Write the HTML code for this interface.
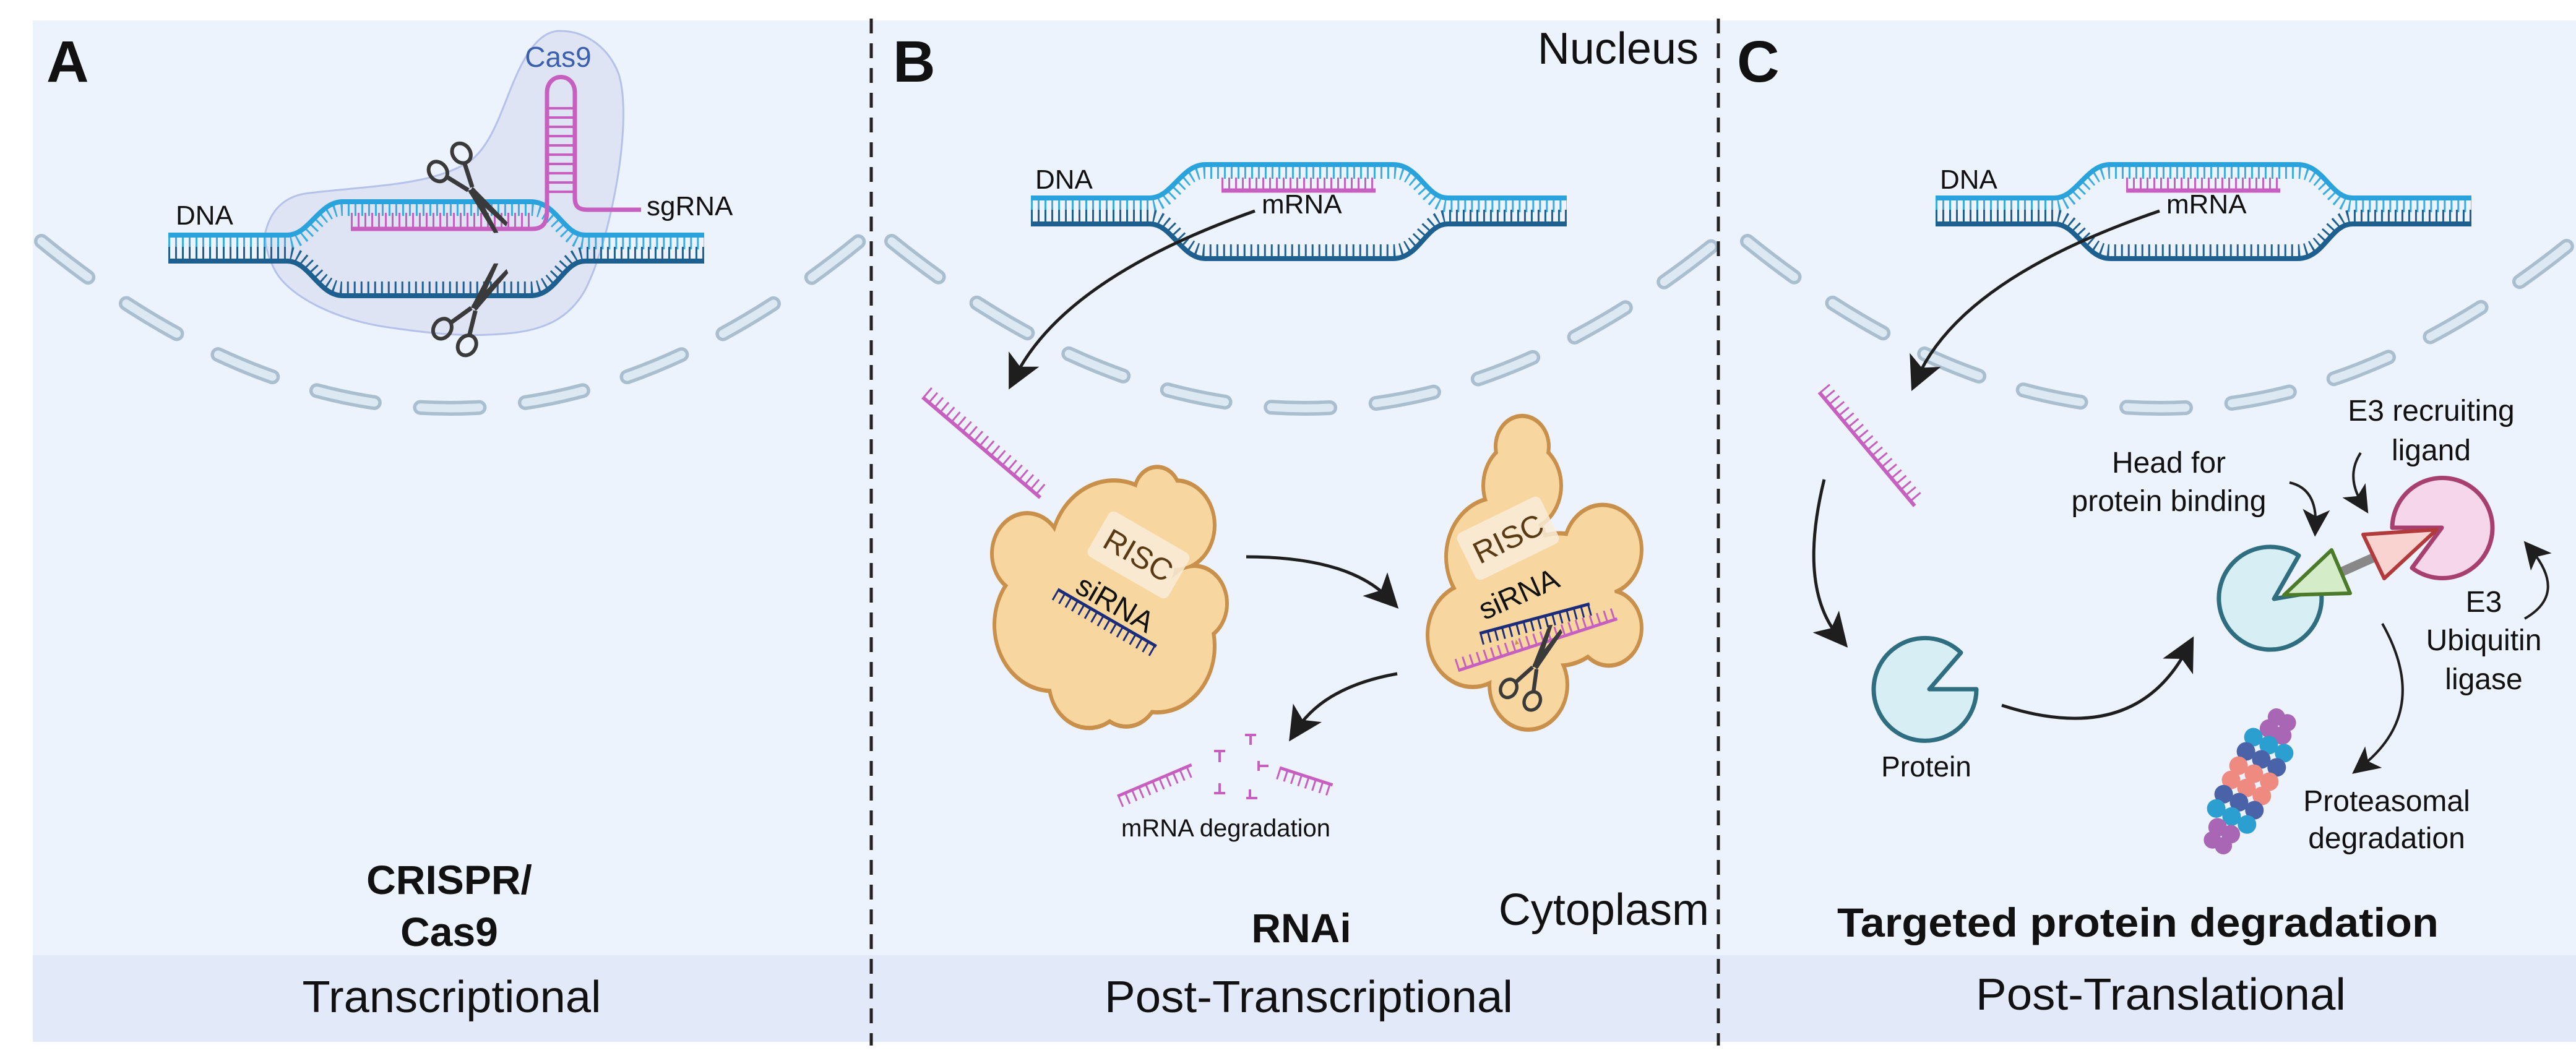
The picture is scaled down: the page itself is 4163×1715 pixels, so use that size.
<!DOCTYPE html>
<html><head><meta charset="utf-8"><style>
html,body{margin:0;padding:0;background:#fff}
svg{display:block}
text{font-family:"Liberation Sans",sans-serif;fill:#111}
</style></head><body>
<svg xmlns="http://www.w3.org/2000/svg" xmlns:xlink="http://www.w3.org/1999/xlink" width="4163" height="1715" viewBox="0 0 4163 1715">
<defs>
<marker id="ah" viewBox="0 0 10 10" refX="6" refY="5" markerWidth="11" markerHeight="11" markerUnits="strokeWidth" orient="auto">
<path d="M0,0 L10,5 L0,10 L2.5,5 Z" fill="#1e1e1e"/></marker>
<clipPath id="pc"><rect x="53" y="33" width="4110" height="1650"/></clipPath>
<g id="dna">
<path d="M272 393 H464 C500 393 515 339 554 339 H857 C900 339 910 393 946 393 H1138" fill="none" stroke="#38ade3" stroke-width="20" stroke-dasharray="3 8"/>
<path d="M272 409 H464 C500 409 515 465 554 465 H857 C900 465 910 409 946 409 H1138" fill="none" stroke="#1f5f91" stroke-width="20" stroke-dasharray="3 8"/>
<path d="M272 380 H464 C500 380 515 326 554 326 H857 C900 326 910 380 946 380 H1138" fill="none" stroke="#2aa3dc" stroke-width="8"/>
<path d="M272 422 H464 C500 422 515 478 554 478 H857 C900 478 910 422 946 422 H1138" fill="none" stroke="#1d5f8f" stroke-width="8"/>
</g>
<g id="sc">
<path d="M0 -5 L80 -14 L84 -8 L4 6 Z" fill="#3a3a3a"/>
<path d="M0 5 L80 14 L84 8 L4 -6 Z" fill="#3a3a3a"/>
<path d="M0 -4 L-38 -18 M0 4 L-38 18" stroke="#3a3a3a" stroke-width="7"/>
<ellipse cx="-54" cy="-24" rx="17" ry="14" fill="none" stroke="#3a3a3a" stroke-width="6"/>
<ellipse cx="-54" cy="24" rx="17" ry="14" fill="none" stroke="#3a3a3a" stroke-width="6"/>
</g>
</defs>

<rect x="53" y="33" width="4110" height="1511" fill="#edf3fc"/>
<rect x="53" y="1544" width="4110" height="140" fill="#e2e9f8"/>

<g clip-path="url(#pc)">
<g fill="none" stroke-linecap="round" stroke-dasharray="95 75">
<path d="M67 390 Q726 930 1388 390" stroke="#a9bfcf" stroke-width="24"/>
<path d="M67 390 Q726 930 1388 390" stroke="#dce8f2" stroke-width="13"/>
<path d="M1441 390 Q2109 930 2776 390" stroke="#a9bfcf" stroke-width="24"/>
<path d="M1441 390 Q2109 930 2776 390" stroke="#dce8f2" stroke-width="13"/>
<path d="M2824 390 Q3491 930 4158 390" stroke="#a9bfcf" stroke-width="24"/>
<path d="M2824 390 Q3491 930 4158 390" stroke="#dce8f2" stroke-width="13"/>
</g>
</g>

<g stroke="#222" stroke-width="5" stroke-dasharray="24 16">
<line x1="1408" y1="30" x2="1408" y2="1690"/>
<line x1="2777" y1="30" x2="2777" y2="1690"/>
</g>

<!-- Panel A -->
<path d="M429 375 C440 330 470 315 500 312 C600 300 700 300 760 260 C800 230 815 160 840 110 C860 70 880 50 905 50 C950 50 985 80 1000 120 C1015 170 1005 260 990 330 C975 400 960 440 946 468 C920 515 880 532 830 538 C760 546 700 540 620 528 C540 515 470 480 446 440 C432 415 428 395 429 375 Z" fill="#dfe4f4" stroke="#b4c2ea" stroke-width="3"/>
<use xlink:href="#dna"/>
<path d="M567 356 H860" stroke="#c65fbf" stroke-width="24" stroke-dasharray="3 8" fill="none"/>
<path d="M567 370 H860 C878 370 884 360 884 340 V150 C884 116 929 116 929 150 V320 C929 334 935 339 950 339 H1036" fill="none" stroke="#c65fbf" stroke-width="7"/>
<path d="M884 175 H929 M884 190 H929 M884 205 H929 M884 220 H929 M884 235 H929 M884 250 H929 M884 265 H929 M884 280 H929 M884 295 H929 M884 310 H929" stroke="#c65fbf" stroke-width="4"/>
<use xlink:href="#sc" transform="translate(760 305) rotate(52)"/>
<use xlink:href="#sc" transform="translate(765 500) rotate(-56)"/>
<text x="284" y="363" font-size="44">DNA</text>
<text x="1045" y="348" font-size="44">sgRNA</text>
<text x="902" y="108" font-size="46" text-anchor="middle" style="fill:#3a5fad">Cas9</text>
<text x="75" y="132" font-size="95" font-weight="bold">A</text>
<text x="726" y="1445" font-size="66" font-weight="bold" text-anchor="middle">CRISPR/</text>
<text x="726" y="1529" font-size="66" font-weight="bold" text-anchor="middle">Cas9</text>
<text x="730" y="1636" font-size="72" text-anchor="middle" textLength="483" lengthAdjust="spacingAndGlyphs">Transcriptional</text>

<!-- Panel B -->
<use xlink:href="#dna" transform="translate(1394 -60)"/>
<path d="M1974 297 H2223" stroke="#c65fbf" stroke-width="20" stroke-dasharray="3 8"/>
<path d="M1974 308 H2223" stroke="#c65fbf" stroke-width="7"/>
<text x="1673" y="305" font-size="44">DNA</text>
<text x="2039" y="345" font-size="44">mRNA</text>
<text x="1443" y="132" font-size="95" font-weight="bold">B</text>
<text x="2745" y="103" font-size="72" text-anchor="end">Nucleus</text>
<text x="2762" y="1495" font-size="72" text-anchor="end">Cytoplasm</text>
<text x="2103" y="1523" font-size="66" font-weight="bold" text-anchor="middle">RNAi</text>
<text x="2115" y="1636" font-size="72" text-anchor="middle" textLength="660" lengthAdjust="spacingAndGlyphs">Post-Transcriptional</text>

<path d="M2028 341 Q1720 450 1640 610" fill="none" stroke="#1e1e1e" stroke-width="5" marker-end="url(#ah)"/>
<g transform="translate(1491 642) rotate(40.5)">
<line x1="0" y1="0" x2="250" y2="0" stroke="#c65fbf" stroke-width="6"/>
<line x1="0" y1="-11" x2="250" y2="-11" stroke="#c65fbf" stroke-width="20" stroke-dasharray="3 9"/>
</g>
<!-- RISC blob 1 -->
<g transform="translate(0 -140) scale(1 1.15)">
<g fill="#c8904a">
<circle cx="1700" cy="1000" r="96"/><circle cx="1800" cy="900" r="106"/><circle cx="1870" cy="1030" r="96"/><circle cx="1760" cy="1080" r="68"/><circle cx="1900" cy="860" r="66"/><circle cx="1870" cy="815" r="40"/><circle cx="1930" cy="970" r="56"/><circle cx="1660" cy="900" r="60"/><circle cx="1820" cy="1090" r="56"/>
</g>
<g fill="#f7d6a0">
<circle cx="1700" cy="1000" r="90"/><circle cx="1800" cy="900" r="100"/><circle cx="1870" cy="1030" r="90"/><circle cx="1760" cy="1080" r="62"/><circle cx="1900" cy="860" r="60"/><circle cx="1870" cy="815" r="34"/><circle cx="1930" cy="970" r="50"/><circle cx="1660" cy="900" r="54"/><circle cx="1820" cy="1090" r="50"/>
</g>
</g>
<g transform="translate(1840 897) rotate(30)">
<rect x="-75" y="-42" width="150" height="84" rx="10" fill="#f8ecd8" opacity="0.85"/>
<text x="0" y="18" font-size="50" text-anchor="middle" style="fill:#5a3a12">RISC</text>
</g>
<g transform="translate(1794 990) rotate(30)">
<text x="0" y="0" font-size="48" text-anchor="middle">siRNA</text>
<line x1="-92" y1="10" x2="92" y2="10" stroke="#1b2d7a" stroke-width="5"/>
<line x1="-92" y1="20" x2="92" y2="20" stroke="#1b2d7a" stroke-width="18" stroke-dasharray="3 9"/>
</g>
<!-- RISC blob 2 -->
<g transform="translate(0 -135) scale(1 1.15)">
<g fill="#c8904a">
<circle cx="2460" cy="800" r="66"/><circle cx="2420" cy="900" r="86"/><circle cx="2520" cy="960" r="96"/><circle cx="2380" cy="1010" r="76"/><circle cx="2470" cy="1080" r="66"/><circle cx="2590" cy="890" r="66"/><circle cx="2600" cy="1000" r="56"/><circle cx="2460" cy="745" r="46"/>
</g>
<g fill="#f7d6a0">
<circle cx="2460" cy="800" r="60"/><circle cx="2420" cy="900" r="80"/><circle cx="2520" cy="960" r="90"/><circle cx="2380" cy="1010" r="70"/><circle cx="2470" cy="1080" r="60"/><circle cx="2590" cy="890" r="60"/><circle cx="2600" cy="1000" r="50"/><circle cx="2460" cy="745" r="40"/>
</g>
</g>
<g transform="translate(2437 870) rotate(-26)">
<rect x="-75" y="-42" width="150" height="84" rx="10" fill="#f8ecd8" opacity="0.85"/>
<text x="0" y="18" font-size="50" text-anchor="middle" style="fill:#5a3a12">RISC</text>
</g>
<text x="0" y="0" font-size="48" text-anchor="middle" transform="translate(2461 975) rotate(-24)">siRNA</text>
<g transform="translate(2480 1000) rotate(-15)">
<line x1="-92" y1="0" x2="92" y2="0" stroke="#1b2d7a" stroke-width="5"/>
<line x1="-92" y1="10" x2="92" y2="10" stroke="#1b2d7a" stroke-width="18" stroke-dasharray="3 9"/>
</g>
<g transform="translate(2485 1042) rotate(-18)">
<line x1="-135" y1="0" x2="135" y2="0" stroke="#c65fbf" stroke-width="5"/>
<line x1="-135" y1="-10" x2="135" y2="-10" stroke="#c65fbf" stroke-width="18" stroke-dasharray="3 9"/>
</g>
<use xlink:href="#sc" transform="translate(2480 1080) rotate(-62) scale(0.9)"/>
<path d="M2014 900 Q2180 900 2245 968" fill="none" stroke="#1e1e1e" stroke-width="5" marker-end="url(#ah)"/>
<path d="M2258 1089 Q2140 1110 2095 1180" fill="none" stroke="#1e1e1e" stroke-width="5" marker-end="url(#ah)"/>
<g stroke="#c65fbf" fill="none">
<g transform="translate(1806 1287) rotate(-23)"><line x1="0" y1="0" x2="130" y2="0" stroke-width="5"/><line x1="0" y1="10" x2="130" y2="10" stroke-width="18" stroke-dasharray="3 9"/></g>
<g transform="translate(2068 1241) rotate(18)"><line x1="0" y1="0" x2="90" y2="0" stroke-width="5"/><line x1="0" y1="10" x2="90" y2="10" stroke-width="18" stroke-dasharray="3 9"/></g>
<path d="M1962 1214 H1980 M1971 1214 V1232" stroke-width="4"/>
<path d="M2012 1188 H2030 M2021 1188 V1204" stroke-width="4"/>
<path d="M2034 1238 H2050 M2034 1230 V1246" stroke-width="4"/>
<path d="M1962 1282 H1980 M1971 1266 V1282" stroke-width="4"/>
<path d="M2014 1290 H2032 M2020 1276 V1290" stroke-width="4"/>
</g>
<text x="1981" y="1352" font-size="40" text-anchor="middle">mRNA degradation</text>

<!-- Panel C -->
<use xlink:href="#dna" transform="translate(2856 -60)"/>
<path d="M3436 297 H3685" stroke="#c65fbf" stroke-width="20" stroke-dasharray="3 8"/>
<path d="M3436 308 H3685" stroke="#c65fbf" stroke-width="7"/>
<text x="3135" y="305" font-size="44">DNA</text>
<text x="3501" y="345" font-size="44">mRNA</text>
<text x="2807" y="132" font-size="95" font-weight="bold">C</text>
<text x="3455" y="1514" font-size="66" font-weight="bold" text-anchor="middle" textLength="972" lengthAdjust="spacingAndGlyphs">Targeted protein degradation</text>
<text x="3492" y="1632" font-size="72" text-anchor="middle" textLength="598" lengthAdjust="spacingAndGlyphs">Post-Translational</text>

<path d="M3490 341 Q3170 450 3098 612" fill="none" stroke="#1e1e1e" stroke-width="5" marker-end="url(#ah)"/>
<g transform="translate(2940 634) rotate(50)">
<line x1="0" y1="0" x2="240" y2="0" stroke="#c65fbf" stroke-width="6"/>
<line x1="0" y1="-11" x2="240" y2="-11" stroke="#c65fbf" stroke-width="20" stroke-dasharray="3 9"/>
</g>
<path d="M2948 775 Q2905 950 2972 1030" fill="none" stroke="#1e1e1e" stroke-width="5" marker-end="url(#ah)"/>
<path d="M3118 1114 L3194 1114 A83 83 0 1 1 3169 1055 Z" fill="#d8eef5" stroke="#2e6e80" stroke-width="7" stroke-linejoin="round"/>
<text x="3113" y="1255" font-size="46" text-anchor="middle">Protein</text>
<path d="M3235 1140 Q3450 1210 3535 1048" fill="none" stroke="#1e1e1e" stroke-width="5" marker-end="url(#ah)"/>
<path d="M3675 968 L3751 955 A83 83 0 1 1 3715 898 Z" fill="#d8eef5" stroke="#2e6e80" stroke-width="7" stroke-linejoin="round"/>
<line x1="3785" y1="924" x2="3850" y2="895" stroke="#888" stroke-width="15"/>
<path d="M3768 889 L3691 962 L3798 959 Z" fill="#d5ecc8" stroke="#4b7b2a" stroke-width="6" stroke-linejoin="round"/>
<path d="M3946 853 L3866 853 A81 81 0 1 1 3898 918 Z" fill="#f5d6ea" stroke="#a8406f" stroke-width="7" stroke-linejoin="round"/>
<path d="M3819 864 L3938 856 L3853 935 Z" fill="#f8d3cf" stroke="#b23a3a" stroke-width="6" stroke-linejoin="round"/>
<path d="M3700 780 Q3745 790 3742 850" fill="none" stroke="#1e1e1e" stroke-width="4" marker-end="url(#ah)"/>
<path d="M3815 732 Q3790 770 3818 815" fill="none" stroke="#1e1e1e" stroke-width="4" marker-end="url(#ah)"/>
<path d="M4080 1000 Q4150 960 4090 888" fill="none" stroke="#1e1e1e" stroke-width="4" marker-end="url(#ah)"/>
<path d="M3850 1008 Q3930 1150 3815 1240" fill="none" stroke="#1e1e1e" stroke-width="4" marker-end="url(#ah)"/>
<text x="3929" y="680" font-size="48" text-anchor="middle">E3 recruiting</text>
<text x="3929" y="744" font-size="48" text-anchor="middle">ligand</text>
<text x="3505" y="764" font-size="48" text-anchor="middle">Head for</text>
<text x="3505" y="826" font-size="48" text-anchor="middle">protein binding</text>
<text x="4014" y="989" font-size="48" text-anchor="middle">E3</text>
<text x="4014" y="1051" font-size="48" text-anchor="middle">Ubiquitin</text>
<text x="4014" y="1114" font-size="48" text-anchor="middle">ligase</text>
<text x="3857" y="1311" font-size="48" text-anchor="middle">Proteasomal</text>
<text x="3857" y="1371" font-size="48" text-anchor="middle">degradation</text>
<g transform="translate(3636 1263) rotate(27.5)">
<g fill="#a866b5"><circle cx="-10" cy="-112" r="14"/><circle cx="10" cy="-112" r="14"/><circle cx="-12" cy="-90" r="15"/><circle cx="12" cy="-90" r="15"/></g>
<g fill="#2a9fd0"><circle cx="-28" cy="-66" r="15"/><circle cx="0" cy="-66" r="15"/><circle cx="28" cy="-66" r="15"/></g>
<g fill="#4a62a8"><circle cx="-28" cy="-40" r="15"/><circle cx="0" cy="-40" r="15"/><circle cx="28" cy="-40" r="15"/></g>
<g fill="#ef8a80"><circle cx="-28" cy="-14" r="15"/><circle cx="0" cy="-14" r="15"/><circle cx="28" cy="-14" r="15"/><circle cx="-28" cy="12" r="15"/><circle cx="0" cy="12" r="15"/><circle cx="28" cy="12" r="15"/></g>
<g fill="#4a62a8"><circle cx="-28" cy="38" r="15"/><circle cx="0" cy="38" r="15"/><circle cx="28" cy="38" r="15"/></g>
<g fill="#2a9fd0"><circle cx="-28" cy="64" r="15"/><circle cx="0" cy="64" r="15"/><circle cx="28" cy="64" r="15"/></g>
<g fill="#a866b5"><circle cx="-12" cy="90" r="15"/><circle cx="12" cy="90" r="15"/><circle cx="-10" cy="112" r="14"/><circle cx="10" cy="112" r="14"/></g>
</g>
</svg>
</body></html>
